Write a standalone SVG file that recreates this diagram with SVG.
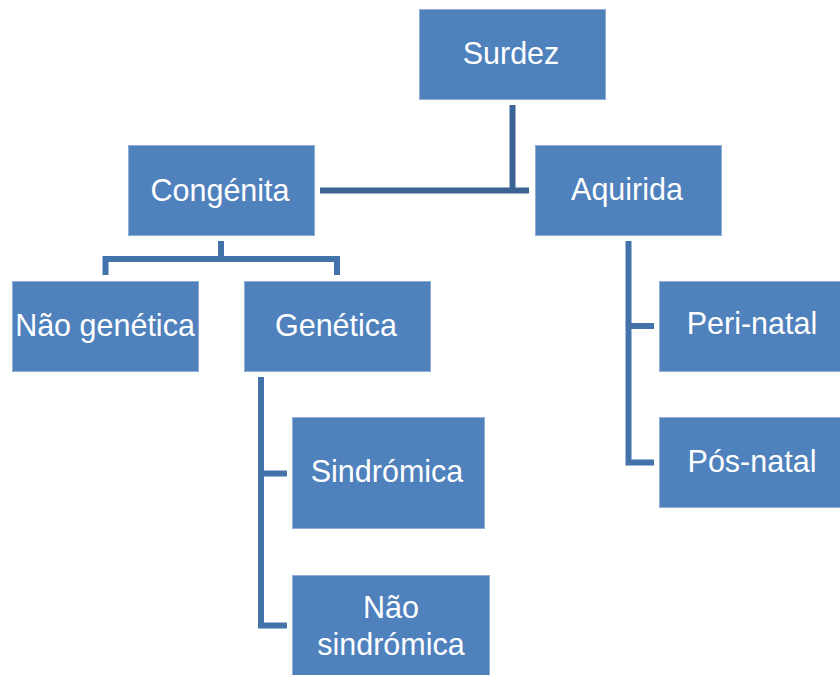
<svg xmlns="http://www.w3.org/2000/svg" width="840" height="675" viewBox="0 0 840 675">
<style>
.box{fill:#4F81BD;stroke:#8FAED6;stroke-width:1}
.t{fill:#FFFFFF;font-family:"Liberation Sans",Arial,sans-serif;font-size:30.5px;text-anchor:middle}
.c{fill:none;stroke:#4472AA;stroke-width:6;stroke-linecap:butt;stroke-linejoin:miter}
.cd{stroke:#3B6394}
</style>
<rect width="840" height="675" fill="#FFFFFF"/>
<g id="connectors">
<path class="c cd" d="M512.5,105 V190.5"/>
<path class="c cd" d="M320,190.5 H529"/>
<path class="c" d="M221,241 V259 M105.5,275 V259 H337 V275"/>
<path class="c" d="M261,377 V625.5 H287 M261,473.5 H287"/>
<path class="c" d="M628.5,241 V462.5 H654 M628.5,326 H654"/>
</g>
<g id="surdez"><rect class="box" x="419.5" y="9.5" width="186" height="90"/><text class="t" x="511" y="64">Surdez</text></g>
<g id="congenita"><rect class="box" x="128.5" y="145.5" width="186" height="90"/><text class="t" x="220" y="201">Congénita</text></g>
<g id="aquirida"><rect class="box" x="535.5" y="145.5" width="186" height="90"/><text class="t" x="627" y="200">Aquirida</text></g>
<g id="nao-genetica"><rect class="box" x="12.5" y="281.5" width="186" height="90"/><text class="t" x="105" y="336">Não genética</text></g>
<g id="genetica"><rect class="box" x="244.5" y="281.5" width="186" height="90"/><text class="t" x="336" y="336">Genética</text></g>
<g id="peri-natal"><rect class="box" x="659.5" y="281.5" width="186" height="90"/><text class="t" x="752" y="334">Peri-natal</text></g>
<g id="pos-natal"><rect class="box" x="659.5" y="417.5" width="186" height="90"/><text class="t" x="752" y="472">Pós-natal</text></g>
<g id="sindromica"><rect class="box" x="292.5" y="417.5" width="192" height="111"/><text class="t" x="387" y="482">Sindrómica</text></g>
<g id="nao-sindromica"><rect class="box" x="292.5" y="575.5" width="197" height="105"/><text class="t" x="391" y="618">Não</text><text class="t" x="391" y="655">sindrómica</text></g>
</svg>
